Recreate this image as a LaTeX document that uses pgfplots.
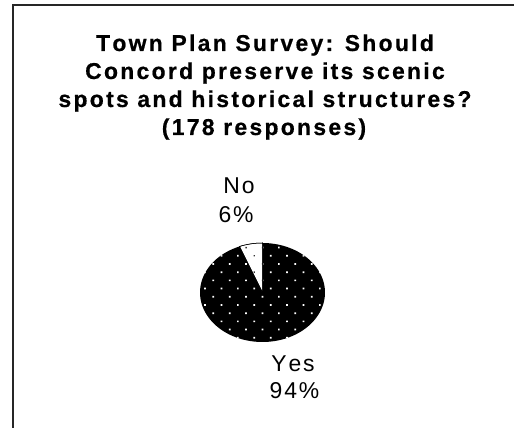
\documentclass[border=0pt]{standalone}
\usepackage{pgfplots}
\pgfplotsset{compat=1.18}
\usepackage{pgfplotstable}
\usetikzlibrary{patterns.meta}
\usepackage{fontspec}
\setmainfont{Liberation Sans}
\newfontfamily\titlefont[LetterSpace=10, Kerning=Off, BoldFeatures={FakeBold=0.6}]{Liberation Sans}
\newfontfamily\labelfont[LetterSpace=8, Kerning=Off]{Liberation Sans}

\pgfplotstableread{
label value
Yes 94
No 6
}\piedata

\begin{document}
\begin{tikzpicture}
\pgfplotstablegetelem{0}{value}\of\piedata \let\yesval\pgfplotsretval
\pgfplotstablegetelem{1}{value}\of\piedata \let\noval\pgfplotsretval
\pgfmathsetmacro\noend{90+3.6*\noval}
\pgfmathsetmacro\yesend{\noend+3.6*\yesval}
\path[use as bounding box] (0,0) rectangle (514bp,428bp);
\begin{axis}[
  at={(0,0)}, anchor=south west,
  width=514bp, height=428bp, scale only axis,
  xmin=0, xmax=514, ymin=0, ymax=428,
  hide axis, clip=false,
]
% frame
\draw[line width=1.6bp, black!85] (13,0) -- (13,423) -- (514,423);
% Yes slice
\addplot[fill=black, draw=none, samples=120, domain=\noend:\yesend, variable=\t,
  postaction={pattern={Dots[distance=11.6bp, radius=1.2bp, angle=45]}, pattern color=white}]
  ({262.5+62.5*cos(\t)}, {135.5+49.5*sin(\t)}) -- (262.5,135.5) -- cycle;
% No slice
\addplot[fill=white, draw=black, line width=0.5bp, samples=30, domain=90:\noend, variable=\t,
  postaction={pattern={Dots[distance=11.6bp, radius=1bp, angle=45]}, pattern color=black!80}]
  ({262.5+62.5*cos(\t)}, {135.5+49.5*sin(\t)}) -- (262.5,135.5) -- cycle;
% title
\node[anchor=base, font=\titlefont\bfseries\fontsize{23}{26}\selectfont] at (265,377) {Town Plan Survey: Should};
\node[anchor=base, font=\titlefont\bfseries\fontsize{23}{26}\selectfont] at (265,349) {Concord preserve its scenic};
\node[anchor=base, font=\titlefont\bfseries\fontsize{23}{26}\selectfont] at (265,321) {spots and historical structures?};
\node[anchor=base, font=\titlefont\bfseries\fontsize{23}{26}\selectfont] at (264,293) {(178 responses)};
% labels
\node[anchor=base, font=\labelfont\fontsize{23}{24}\selectfont] at (239,234) {No};
\node[anchor=base, font=\labelfont\fontsize{23}{24}\selectfont] at (236,205) {6\%};
\node[anchor=base, font=\labelfont\fontsize{23}{24}\selectfont] at (293,56) {Yes};
\node[anchor=base, font=\labelfont\fontsize{23}{24}\selectfont] at (294.5,30) {94\%};
\end{axis}
\end{tikzpicture}
\end{document}
